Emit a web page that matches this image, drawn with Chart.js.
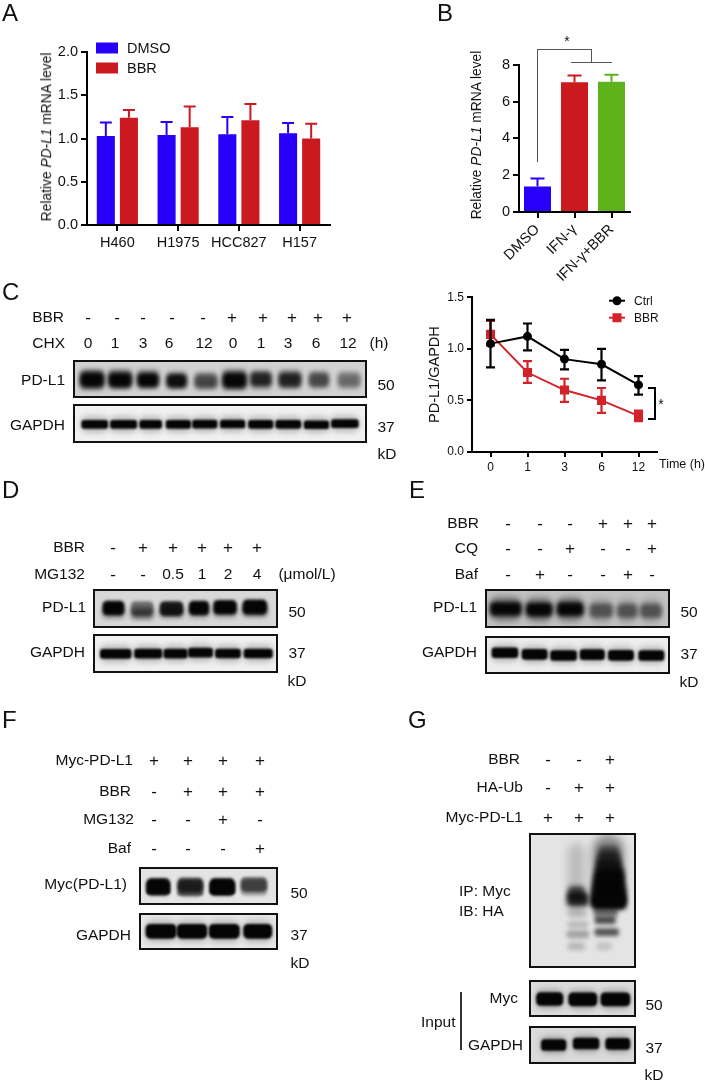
<!DOCTYPE html>
<html>
<head>
<meta charset="utf-8">
<title>PD-L1 figure</title>
<script src="https://cdn.jsdelivr.net/npm/chart.js@4"></script>
<style>
body { margin: 0; background: #fff; width: 705px; height: 1082px; overflow: hidden; position: relative;
       font-family: "Liberation Sans", Arial, sans-serif; color: #111; }
canvas { position: absolute; }
.txt { position: absolute; white-space: nowrap; line-height: 1; font-size: 15.5px; will-change: transform; }
.letter { font-size: 24px; }
.mark { font-size: 17px; }
.gel { position: absolute; box-sizing: border-box; border: 2px solid #111; overflow: hidden; }
.rule { position: absolute; }
</style>
</head>
<body>
<script>
// Panel A
const aCells = ['H460', 'H1975', 'HCC827', 'H157'];
const aDmso = [1.03, 1.04, 1.05, 1.06];
const aDmsoTop = [1.185, 1.19, 1.25, 1.18];
const aBbr = [1.24, 1.13, 1.21, 1.00];
const aBbrTop = [1.33, 1.37, 1.40, 1.17];

// Panel B
const bGroups = ['DMSO', 'IFN-γ', 'IFN-γ+BBR'];
const bValues = [1.38, 7.05, 7.07];
const bTop = [1.82, 7.42, 7.45];

// Panel C, time course
const timeLabels = ['0', '1', '3', '6', '12'];
const ctrlMean = [1.05, 1.12, 0.90, 0.85, 0.65];
const ctrlHigh = [1.28, 1.245, 0.99, 1.0, 0.735];
const ctrlLow = [0.82, 0.985, 0.80, 0.695, 0.555];
const bbrMean = [1.14, 0.77, 0.60, 0.50, 0.35];
const bbrHigh = [1.27, 0.88, 0.71, 0.62, 0.40];
const bbrLow = [1.03, 0.67, 0.485, 0.38, 0.30];

// Blots: extent = left/right of the band, pos = height of the band, both in % of the membrane; dark = 0..1
const cPdl1Extent = [[1.9, 9.9], [11.6, 19.5], [21.5, 28.8], [31.6, 38.5], [41.3, 49], [51, 59], [60.5, 67.7], [70.3, 77.9], [80.7, 87.5], [90.7, 98.3]];
const cPdl1Pos = [55, 58, 58, 61, 61, 58, 50, 57, 55, 55];
const cPdl1Dark = [1, 1, 1, 0.95, 0.55, 1, 0.8, 0.8, 0.6, 0.35];
const cPdl1UpperPos = [30, 30, 30, 35, 40, 30, 30, 30, 35, 38];
const cPdl1UpperDark = [0.55, 0.55, 0.4, 0.15, 0.12, 0.55, 0.2, 0.35, 0.15, 0.15];
const cPdl1LowerPos = [82, 80, 78, 78, 80, 84, 80, 78, 78, 78];
const cPdl1LowerDark = [0.5, 0.3, 0.2, 0.2, 0.3, 0.55, 0.3, 0.2, 0.15, 0.2];
const cGapdhExtent = [[2.3, 11.3], [12.2, 21.3], [22.3, 29.9], [31.4, 39.9], [40.5, 49], [50.1, 58.6], [59.8, 68.3], [69.2, 77.9], [79, 87.5], [88.4, 97.7]];
const cGapdhPos = [55, 55, 55, 55, 54, 53, 55, 55, 57, 51];
const cGapdhDark = [1, 1, 1, 1, 1, 1, 1, 1, 1, 1];

const dPdl1Extent = [[4.3, 16.1], [20, 32.1], [36, 48.6], [52, 62.9], [65.5, 78.2], [81.7, 94.9]];
const dPdl1Pos = [47, 50, 50, 47, 43, 41];
const dPdl1Dark = [1, 0.5, 0.9, 1, 1, 1];
const dPdl1LowerPos = [72, 78, 70, 70, 68, 62];
const dPdl1LowerDark = [0.4, 0.55, 0.5, 0.35, 0.35, 0.6];
const dGapdhExtent = [[2.9, 20], [21.8, 37], [38, 51], [51.6, 65], [66.5, 80.4], [82.3, 98]];
const dGapdhPos = [52, 51, 51, 45, 50, 50];
const dGapdhDark = [1, 1, 1, 1, 1, 1];

const ePdl1Extent = [[1.8, 18.9], [21.6, 36], [38.7, 53.2], [56.8, 69.4], [72, 82.9], [84.7, 96.4]];
const ePdl1Pos = [52, 56, 54, 62, 64, 64];
const ePdl1Dark = [1, 1, 1, 0.5, 0.5, 0.5];
const eGapdhExtent = [[2.7, 17.1], [19.3, 33.3], [35.1, 49.5], [51.4, 64.9], [67, 81], [83.8, 97.8]];
const eGapdhPos = [37, 46, 53, 48, 52, 53];
const eGapdhDark = [1, 1, 1, 1, 1, 1];

const fMycExtent = [[4.3, 21.2], [27.2, 45.9], [51.2, 69.2], [74, 93.3]];
const fMycPos = [48, 45, 48, 42];
const fMycDark = [1, 0.8, 1, 0.65];
const fMycLowerPos = [83, 92, 83, 90];
const fMycLowerDark = [0.8, 0.35, 0.8, 0.06];
const fMycMidPos = [62, 66, 62, 62];
const fMycMidDark = [0.85, 0.5, 1, 0.25];
const fGapdhExtent = [[3.6, 26], [26.7, 48.8], [50.5, 72.9], [76, 96.9]];
const fGapdhPos = [49, 49, 49, 49];
const fGapdhDark = [1, 1, 1, 1];

const gSmearExtent = [[66, 85], [64, 87], [63, 88], [62, 90], [61, 90], [60, 91], [59, 92], [59, 92], [59, 92], [36, 52], [35, 56]];
const gSmearPos = [6, 12, 19, 26, 32, 38, 44, 50, 52, 43, 49];
const gSmearDark = [0.55, 0.65, 0.85, 1, 1, 1, 1, 1, 1, 0.7, 0.85];
const gBandExtent = [[36, 54], [36, 55], [35, 56], [36, 52], [61, 84], [62, 82], [62, 85], [64, 78]];
const gBandPos = [62, 72, 81, 92, 61, 68, 79, 92];
const gBandDark = [0.15, 0.18, 0.3, 0.2, 0.55, 0.7, 0.65, 0.15];
const gStreakExtent = [[36, 52], [60, 90]];
const gStreakPos = [30, 22];
const gStreakDark = [0.18, 0.4];
const gMycExtent = [[5.3, 31], [36.6, 64], [67.8, 96]];
const gMycPos = [53, 55, 55];
const gMycDark = [1, 1, 1];
const gGapdhExtent = [[10, 34], [41, 66], [72.5, 96]];
const gGapdhPos = [50, 41, 43];
const gGapdhDark = [1, 1, 1];

// Sample rows above the blots
const cBbrMarks = ['-', '-', '-', '-', '-', '+', '+', '+', '+', '+'];
const cChxMarks = ['0', '1', '3', '6', '12', '0', '1', '3', '6', '12'];
const dBbrMarks = ['-', '+', '+', '+', '+', '+'];
const dMgMarks = ['-', '-', '0.5', '1', '2', '4'];
const eBbrMarks = ['-', '-', '-', '+', '+', '+'];
const eCqMarks = ['-', '-', '+', '-', '-', '+'];
const eBafMarks = ['-', '+', '-', '-', '+', '-'];
const fMycMarks = ['+', '+', '+', '+'];
const fBbrMarks = ['-', '+', '+', '+'];
const fMgMarks = ['-', '-', '+', '-'];
const fBafMarks = ['-', '-', '-', '+'];
const gBbrMarks = ['-', '-', '+'];
const gUbMarks = ['-', '+', '+'];
const gMycMarks = ['+', '+', '+'];

const BLUE = '#2800fa';
const RED = '#cb1a1f';
const GREEN = '#5eb31c';
const FONT = '"Liberation Sans", Arial, sans-serif';

Chart.defaults.animation = false;
Chart.defaults.responsive = false;
Chart.defaults.font.family = FONT;
Chart.defaults.color = '#111';

// Text helpers
function put(str, x, y, align, cls, size) {
    const el = document.createElement('div');
    el.className = 'txt ' + (cls || '');
    el.innerHTML = str;
    el.style.left = x + 'px';
    el.style.top = y + 'px';
    const shift = align === 'right' ? '-100%' : align === 'left' ? '0' : '-50%';
    el.style.transform = `translate(${shift}, -50%)`;
    if (size) el.style.fontSize = size + 'px';
    document.body.appendChild(el);
    return el;
}

function row(label, right, y, xs, marks) {
    put(label, right, y, 'right');
    marks.forEach((m, i) => {
        const isSign = m === '+' || m === '-';
        put(m, xs[i], y, 'center', isSign ? 'mark' : '');
    });
}

function rule(x, y, w, h, color) {
    const el = document.createElement('div');
    el.className = 'rule';
    el.style.cssText = `left:${x}px;top:${y}px;width:${w}px;height:${h}px;background:${color || '#111'}`;
    document.body.appendChild(el);
}

function yTitle(html, x, y, size) {
    const el = put(html, x, y, 'center', '', size);
    el.style.willChange = 'auto'; // the layer made the rotated text too faint
    el.style.transform = 'translate(-50%, -50%) rotate(-90deg)';
}

// Error bars, read from dataset.errHigh / dataset.errLow
const errorBars = {
    id: 'errorBars',
    beforeDatasetDraw(chart, args) {
        const ds = chart.data.datasets[args.index];
        if (!ds.errHigh) return;
        const ctx = chart.ctx;
        const y = chart.scales.y;
        ctx.save();
        ctx.lineWidth = ds.errWidth;
        args.meta.data.forEach((el, i) => {
            ctx.strokeStyle = Array.isArray(ds.errColor) ? ds.errColor[i] : ds.errColor;
            const hi = y.getPixelForValue(ds.errHigh[i]);
            const lo = y.getPixelForValue(ds.errLow ? ds.errLow[i] : ds.data[i]);
            ctx.beginPath();
            ctx.moveTo(el.x, lo);
            ctx.lineTo(el.x, hi);
            ctx.moveTo(el.x - ds.errCap, hi);
            ctx.lineTo(el.x + ds.errCap, hi);
            if (ds.errLow) {
                ctx.moveTo(el.x - ds.errCap, lo);
                ctx.lineTo(el.x + ds.errCap, lo);
            }
            ctx.stroke();
        });
        ctx.restore();
    }
};

// Legend placed inside the plot, the built in one can not go there
const insideLegend = {
    id: 'insideLegend',
    afterDraw(chart, args, opts) {
        if (!opts.items) return;
        const ctx = chart.ctx;
        ctx.save();
        chart.data.datasets.forEach((ds, i) => {
            const y = chart.chartArea.top + opts.y + i * opts.gap;
            const x = chart.chartArea.left + opts.x;
            if (opts.items === 'box') {
                ctx.fillStyle = ds.backgroundColor;
                ctx.fillRect(x, y - 5.5, opts.w, 11);
            } else {
                ctx.strokeStyle = ds.borderColor;
                ctx.lineWidth = 2;
                ctx.beginPath();
                ctx.moveTo(x, y);
                ctx.lineTo(x + opts.w, y);
                ctx.stroke();
                ctx.fillStyle = ds.pointBackgroundColor;
                ctx.strokeStyle = ds.pointBackgroundColor;
                Chart.helpers.drawPoint(ctx, { pointStyle: ds.pointStyle, radius: ds.pointRadius, rotation: 0, borderWidth: 1 }, x + opts.w / 2, y);
            }
            ctx.fillStyle = '#111';
            ctx.font = opts.size + 'px ' + FONT;
            ctx.textBaseline = 'middle';
            ctx.fillText(ds.label, x + opts.w + opts.pad, y + 0.5);
        });
        ctx.restore();
    }
};

function axisOptions(size, tickLen) {
    return {
        border: { color: '#000', width: 2 },
        grid: { drawOnChartArea: false, offset: false, color: '#000', lineWidth: 2, tickLength: tickLen, tickColor: '#000', tickWidth: 2 },
        ticks: { font: { size: size }, color: '#111', padding: 3, autoSkip: false }
    };
}

// plot = [left, top, right, bottom] of the axes on the page, m = room around them
function makeChart(plot, m, config) {
    const c = document.createElement('canvas');
    c.width = plot[2] - plot[0] + m.left + m.right;
    c.height = plot[3] - plot[1] + m.top + m.bottom;
    c.style.left = (plot[0] - m.left) + 'px';
    c.style.top = (plot[1] - m.top) + 'px';
    document.body.appendChild(c);
    config.options.layout = { padding: { top: m.top, right: m.right, left: 0, bottom: 0 } };
    config.options.scales.x.afterFit = s => { s.height = m.bottom; };
    config.options.scales.y.afterFit = s => { s.width = m.left; };
    return new Chart(c, config);
}

// Panel A
const aX = axisOptions(14.5, 6);
aX.ticks.maxRotation = 0;
aX.ticks.minRotation = 0;
const aY = axisOptions(14.5, 6);
aY.min = 0;
aY.max = 2;
aY.ticks.stepSize = 0.5;
aY.ticks.callback = v => v.toFixed(1);
makeChart([87, 52, 330, 225], { left: 45, top: 15, right: 8, bottom: 30 }, {
    type: 'bar',
    data: {
        labels: aCells,
        datasets: [
            { label: 'DMSO', data: aDmso, backgroundColor: BLUE, errHigh: aDmsoTop, errColor: BLUE, errWidth: 2, errCap: 6 },
            { label: 'BBR', data: aBbr, backgroundColor: RED, errHigh: aBbrTop, errColor: RED, errWidth: 2, errCap: 6 }
        ]
    },
    options: {
        categoryPercentage: 0.76,
        barPercentage: 0.783,
        plugins: {
            legend: { display: false },
            tooltip: { enabled: false },
            insideLegend: { items: 'box', x: 9, y: -4, gap: 20, w: 22, pad: 9, size: 14.5 }
        },
        scales: { x: aX, y: aY }
    },
    plugins: [errorBars, insideLegend]
});

// Panel B
const bX = axisOptions(14.5, 6);
bX.ticks.minRotation = 45;
bX.ticks.maxRotation = 45;
const bY = axisOptions(14.5, 6);
bY.min = 0;
bY.max = 8;
bY.ticks.stepSize = 2;
makeChart([519, 61, 630, 212], { left: 50, top: 8, right: 8, bottom: 72 }, {
    type: 'bar',
    data: {
        labels: bGroups,
        datasets: [{
            label: 'PD-L1',
            data: bValues,
            backgroundColor: [BLUE, RED, GREEN],
            errHigh: bTop,
            errColor: [BLUE, RED, GREEN],
            errWidth: 2,
            errCap: 7
        }]
    },
    options: {
        categoryPercentage: 1,
        barPercentage: 0.73,
        plugins: { legend: { display: false }, tooltip: { enabled: false } },
        scales: { x: bX, y: bY }
    },
    plugins: [errorBars]
});

// Panel C, time course
const timeX = axisOptions(12, 5);
timeX.offset = true;
const timeY = axisOptions(12, 5);
timeY.min = 0;
timeY.max = 1.5;
timeY.ticks.stepSize = 0.5;
timeY.ticks.callback = v => v.toFixed(1);
timeY.title = { display: true, text: 'PD-L1/GAPDH', font: { size: 14.5 }, color: '#111', padding: { top: 6, bottom: 0 } };
makeChart([472, 295, 658, 452], { left: 52, top: 8, right: 6, bottom: 24 }, {
    type: 'line',
    data: {
        labels: timeLabels,
        datasets: [
            { label: 'Ctrl', data: ctrlMean, borderColor: '#000', borderWidth: 2, pointStyle: 'circle', pointRadius: 3.5, pointBackgroundColor: '#000', pointBorderColor: '#000',
              errHigh: ctrlHigh, errLow: ctrlLow, errColor: '#000', errWidth: 2.2, errCap: 4.5 },
            { label: 'BBR', data: bbrMean, borderColor: '#d3232a', borderWidth: 2, pointStyle: 'rect', pointRadius: 5, pointBackgroundColor: '#d3232a', pointBorderColor: '#d3232a',
              errHigh: bbrHigh, errLow: bbrLow, errColor: '#d3232a', errWidth: 2.2, errCap: 4.5 }
        ]
    },
    options: {
        plugins: {
            legend: { display: false },
            tooltip: { enabled: false },
            insideLegend: { items: 'line', x: 137, y: 3.5, gap: 17, w: 16, pad: 9, size: 12 }
        },
        scales: { x: timeX, y: timeY }
    },
    plugins: [errorBars, insideLegend]
});

// Blots, every band is a floating horizontal bar on a 0-100 membrane scale
const softBands = {
    id: 'softBands',
    beforeDatasetDraw(chart, args) {
        const ds = chart.data.datasets[args.index];
        chart.ctx.save();
        chart.ctx.filter = `blur(${ds.blur}px)`;
    },
    afterDatasetDraw(chart) {
        chart.ctx.restore();
    }
};

function layer(extent, pos, dark, thick, blur, fade) {
    return {
        data: pos.map((p, i) => ({ x: extent[i], y: p })),
        backgroundColor: dark.map(d => `rgba(5,5,5,${d * (fade || 1)})`),
        barThickness: thick,
        borderRadius: thick / 3,
        borderSkipped: false,
        grouped: false,
        blur: blur
    };
}

function blot(box, bg, layers) {
    const wrap = document.createElement('div');
    wrap.className = 'gel';
    wrap.style.cssText = `left:${box[0]}px;top:${box[1]}px;width:${box[2] - box[0]}px;height:${box[3] - box[1]}px;background:${bg}`;
    document.body.appendChild(wrap);
    const c = document.createElement('canvas');
    c.width = box[2] - box[0] - 4;
    c.height = box[3] - box[1] - 4;
    wrap.appendChild(c);
    // first dataset is drawn on top, so the haze goes last
    new Chart(c, {
        type: 'bar',
        data: { datasets: layers.slice().reverse() },
        options: {
            indexAxis: 'y',
            plugins: { legend: { display: false }, tooltip: { enabled: false } },
            scales: {
                x: { type: 'linear', min: 0, max: 100, display: false },
                y: { type: 'linear', min: 0, max: 100, reverse: true, display: false }
            }
        },
        plugins: [softBands]
    });
}

// layers are listed back to front
blot([73, 360, 367, 398], '#d2d2d2', [
    layer(cPdl1Extent, cPdl1UpperPos, cPdl1UpperDark, 11, 2.5),
    layer(cPdl1Extent, cPdl1LowerPos, cPdl1LowerDark, 10, 2.5),
    layer(cPdl1Extent, cPdl1Pos, cPdl1Dark, 14, 2)
]);
blot([73, 404, 367, 443], '#f1f1f1', [
    layer(cGapdhExtent, cGapdhPos, cGapdhDark, 15, 3, 0.25),
    layer(cGapdhExtent, cGapdhPos, cGapdhDark, 8, 1.2)
]);
blot([93, 589, 278, 628], '#d8d8d8', [
    layer(dPdl1Extent, dPdl1LowerPos, dPdl1LowerDark, 11, 2.5),
    layer(dPdl1Extent, dPdl1Pos, dPdl1Dark, 14, 1.8)
]);
blot([93, 634, 278, 673], '#f0f0f0', [
    layer(dGapdhExtent, dGapdhPos, dGapdhDark, 16, 3, 0.25),
    layer(dGapdhExtent, dGapdhPos, dGapdhDark, 9, 1.2)
]);
blot([485, 589, 670, 628], '#c2c2c2', [
    layer(ePdl1Extent, ePdl1Pos, ePdl1Dark, 24, 3, 0.4),
    layer(ePdl1Extent, ePdl1Pos, ePdl1Dark, 13, 2)
]);
blot([485, 636, 670, 674], '#ededed', [
    layer(eGapdhExtent, eGapdhPos, eGapdhDark, 16, 3, 0.25),
    layer(eGapdhExtent, eGapdhPos, eGapdhDark, 10, 1.2)
]);
blot([139, 867, 278, 905], '#e4e4e4', [
    layer(fMycExtent, fMycMidPos, fMycMidDark, 15, 1.8),
    layer(fMycExtent, fMycLowerPos, fMycLowerDark, 4, 1),
    layer(fMycExtent, fMycPos, fMycDark, 14, 1.6)
]);
blot([139, 913, 278, 950], '#e8e8e8', [
    layer(fGapdhExtent, fGapdhPos, fGapdhDark, 20, 3, 0.25),
    layer(fGapdhExtent, fGapdhPos, fGapdhDark, 14, 1.2)
]);
blot([529, 833, 636, 968], '#e4e4e4', [
    layer(gStreakExtent, gStreakPos, gStreakDark, 70, 4),
    layer(gBandExtent, gBandPos, gBandDark, 7, 2),
    layer(gSmearExtent, gSmearPos, gSmearDark, 13, 2.5)
]);
blot([529, 980, 636, 1017], '#dddddd', [
    layer(gMycExtent, gMycPos, gMycDark, 18, 3, 0.3),
    layer(gMycExtent, gMycPos, gMycDark, 13, 1.2)
]);
blot([529, 1026, 636, 1064], '#dadada', [
    layer(gGapdhExtent, gGapdhPos, gGapdhDark, 16, 3, 0.3),
    layer(gGapdhExtent, gGapdhPos, gGapdhDark, 11, 1.2)
]);

// Panel letters
put('A', 2, 13, 'left', 'letter');
put('B', 437, 13, 'left', 'letter');
put('C', 2, 292, 'left', 'letter');
put('D', 2, 490, 'left', 'letter');
put('E', 409, 490, 'left', 'letter');
put('F', 2, 720, 'left', 'letter');
put('G', 408, 720, 'left', 'letter');

// Axis titles with the italic part
yTitle('Relative <i>PD-L1</i> mRNA level', 47, 137, 13.8);
yTitle('Relative <i>PD-L1</i> mRNA level', 477, 135, 13.8);

// Panel B significance
rule(537, 49, 1, 113, '#555');
rule(537, 49, 55, 1, '#555');
rule(591, 49, 1, 13, '#555');
rule(571, 62, 41, 1, '#555');
put('*', 566.5, 41, 'center', '', 14);

// Panel C time course extras
put('Time (h)', 682, 464, 'center', '', 12.5);
rule(648, 387, 7, 2, '#000');
rule(648, 418, 7, 2, '#000');
rule(654, 387, 2, 33, '#000');
put('*', 661, 404, 'center', '', 14);

// Panel C
const cLanesTop = [88, 117, 143, 172, 203, 232, 263, 292, 318, 347];
const cLanesBot = [88, 115, 143, 169, 204, 233, 261, 288, 316, 348];
row('BBR', 64, 317, cLanesTop, cBbrMarks);
row('CHX', 65, 343, cLanesBot, cChxMarks);
put('(h)', 379, 343, 'center');
put('PD-L1', 65, 380, 'right');
put('GAPDH', 65, 425, 'right');
put('50', 386, 385);
put('37', 386, 427);
put('kD', 387, 454);

// Panel D
const dLanes = [113, 143, 173, 202, 228, 257];
row('BBR', 85, 547, dLanes, dBbrMarks);
row('MG132', 85, 574, dLanes, dMgMarks);
put('(μmol/L)', 307, 574);
put('PD-L1', 85.5, 607, 'right');
put('GAPDH', 85, 652, 'right');
put('50', 297, 612);
put('37', 297, 653);
put('kD', 297, 681);

// Panel E
const eLanes = [508, 540, 570, 603, 628, 652];
row('BBR', 479, 523, eLanes, eBbrMarks);
row('CQ', 478, 548, eLanes, eCqMarks);
row('Baf', 478, 574, eLanes, eBafMarks);
put('PD-L1', 477, 607, 'right');
put('GAPDH', 477, 652, 'right');
put('50', 689, 612);
put('37', 689, 654);
put('kD', 689, 682);

// Panel F
const fLanes = [154, 188, 223, 260];
row('Myc-PD-L1', 133, 760, fLanes, fMycMarks);
row('BBR', 131, 791, fLanes, fBbrMarks);
row('MG132', 134, 819, fLanes, fMgMarks);
row('Baf', 131, 848, fLanes, fBafMarks);
put('Myc(PD-L1)', 127, 884, 'right');
put('GAPDH', 131, 935, 'right');
put('50', 299, 893);
put('37', 299, 935);
put('kD', 300, 963);

// Panel G
const gLanes = [548, 579, 610];
row('BBR', 520, 759, gLanes, gBbrMarks);
row('HA-Ub', 523, 787, gLanes, gUbMarks);
row('Myc-PD-L1', 523, 817, gLanes, gMycMarks);
put('IP: Myc', 459, 891, 'left');
put('IB: HA', 459, 911, 'left');
put('Myc', 518, 998, 'right');
put('GAPDH', 523, 1045, 'right');
put('Input', 421, 1022, 'left');
rule(460, 992, 2, 58, '#333');
put('50', 654, 1005);
put('37', 654, 1048);
put('kD', 654, 1075);
</script>
</body>
</html>
